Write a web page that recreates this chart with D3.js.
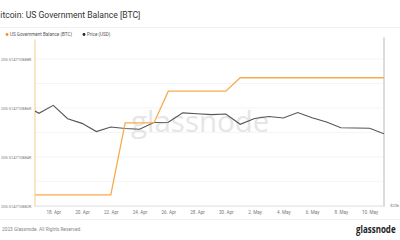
<!DOCTYPE html>
<html><head><meta charset="utf-8">
<script src="https://cdn.jsdelivr.net/npm/d3@7"></script>
<style>
html,body{margin:0;padding:0;background:#fff;overflow:hidden;}
svg{display:block;font-family:Roboto,"Liberation Sans",Arial,sans-serif;}
</style></head>
<body>
<svg id="c" width="400" height="240"></svg>
<script>
// ---- data ----
const dates = ["2023-04-16T17:30","2023-04-17","2023-04-18","2023-04-19","2023-04-20","2023-04-21","2023-04-22","2023-04-23","2023-04-24","2023-04-25","2023-04-26","2023-04-27","2023-04-28","2023-04-29","2023-04-30","2023-05-01","2023-05-02","2023-05-03","2023-05-04","2023-05-05","2023-05-06","2023-05-07","2023-05-08","2023-05-09","2023-05-10","2023-05-11"];
const balance = [205514.71088244,205514.71088244,205514.71088244,205514.71088244,205514.71088244,205514.71088244,205514.71088244,205514.710885386,205514.710885386,205514.710885386,205514.710886685,205514.710886685,205514.710886685,205514.710886685,205514.710886685,205514.710887235,205514.710887235,205514.710887235,205514.710887235,205514.710887235,205514.710887235,205514.710887235,205514.710887235,205514.710887235,205514.710887235,205514.710887235];
const price = [29720,29440,30440,28780,28230,27280,27800,27620,27540,28330,28360,29500,29380,29280,29350,28120,28820,29050,28870,29540,28900,28390,27720,27680,27650,27030];
const balTicks = [205514.710882,205514.710884,205514.710886,205514.710888];
const balGrid = [205514.710882,205514.710883,205514.710884,205514.710885,205514.710886,205514.710887,205514.710888];
const priceTicks = [20000];
const xTickDates = ["2023-04-18","2023-04-20","2023-04-22","2023-04-24","2023-04-26","2023-04-28","2023-04-30","2023-05-02","2023-05-04","2023-05-06","2023-05-08","2023-05-10"];

// ---- layout ----
const L = 35, R = 384, T = 39.5, B = 205.7;
const svg = d3.select("#c");
const parse = s => new Date(s + "Z");
const x = d3.scaleUtc().domain([parse(dates[0]), parse(dates[dates.length-1])]).range([L, R]);
const yB = d3.scaleLinear().domain([205514.710882, 205514.7108888]).range([B, T]);
const yP = d3.scaleLog().domain([20000, 40100]).range([B, T]);

// header (reference shows the title with its first letter cropped)
svg.append("text").attr("x", 0.3).attr("y", 18.3).attr("font-size", 8.6).attr("fill", "#333")
  .text("itcoin: US Government Balance [BTC]");
svg.append("line").attr("x1",0).attr("x2",400).attr("y1",27.5).attr("y2",27.5).attr("stroke","#f0f0f0");

// legend
const lg = svg.append("g").attr("font-size", 4.6).attr("fill", "#555");
lg.append("circle").attr("cx", 7).attr("cy", 34.5).attr("r", 1.4).attr("fill", "#f7931a");
lg.append("text").attr("x", 10).attr("y", 36.1).text("US Government Balance (BTC)");
lg.append("circle").attr("cx", 84).attr("cy", 34.5).attr("r", 1.4).attr("fill", "#222");
lg.append("text").attr("x", 87).attr("y", 36.1).text("Price (USD)");

// grid
svg.append("g").selectAll("line").data(balGrid).join("line")
  .attr("x1", L).attr("x2", R).attr("y1", d => yB(d)).attr("y2", d => yB(d))
  .attr("stroke", "#f1f1f1").attr("stroke-width", 0.8);

// watermark
svg.append("text").attr("x", 131).attr("y", 131.5).attr("font-size", 29.5)
  .attr("font-family", "'Open Sans',Roboto,sans-serif").attr("font-weight", 500)
  .attr("fill", "#e6e6e6").text("glassnode");

// left axis
const yAxisL = d3.axisLeft(yB).tickValues(balTicks).tickSize(0).tickPadding(3)
  .tickFormat(d => (d/1000).toFixed(9) + "K");
const gl = svg.append("g").attr("transform", `translate(${L},0)`).call(yAxisL);
gl.select(".domain").remove();
gl.selectAll("text").attr("font-size", 4.3).attr("fill", "#777").attr("font-family", "Roboto,sans-serif")
  .attr("text-anchor", "start").attr("x", 1 - L).attr("textLength", 30.5).attr("lengthAdjust", "spacingAndGlyphs");
svg.append("line").attr("x1", L).attr("x2", L).attr("y1", T).attr("y2", B+1).attr("stroke", "#fbc98a").attr("stroke-width", 1);

// right axis
const yAxisR = d3.axisRight(yP).tickValues(priceTicks).tickSize(0).tickPadding(6)
  .tickFormat(d => "$" + (d/1000) + "k");
const gr = svg.append("g").attr("transform", `translate(${R},0)`).call(yAxisR);
gr.select(".domain").remove();
gr.selectAll("text").attr("font-size", 4.2).attr("fill", "#777").attr("font-family", "Roboto,sans-serif").attr("dy","0.1em");
svg.append("line").attr("x1", R).attr("x2", R).attr("y1", T-2).attr("y2", B+1).attr("stroke", "#dcdcdc").attr("stroke-width", 2);

// bottom axis
const xAxis = d3.axisBottom(x).tickValues(xTickDates.map(parse)).tickSize(0).tickPadding(5)
  .tickFormat(d => d3.utcFormat("%-d. %b")(d));
const gx = svg.append("g").attr("transform", `translate(0,${B})`).call(xAxis);
gx.select(".domain").remove();
gx.selectAll("text").attr("font-size", 4.6).attr("fill", "#777").attr("font-family", "Roboto,sans-serif");
svg.append("line").attr("x1", L).attr("x2", R).attr("y1", B+0.5).attr("y2", B+0.5).attr("stroke", "#e2e2e2").attr("stroke-width", 1);

// clip
svg.append("clipPath").attr("id", "clip").append("rect").attr("x", L).attr("y", T).attr("width", R-L).attr("height", B-T);
const plot = svg.append("g").attr("clip-path", "url(#clip)");

const pts = dates.map((d, i) => ({t: parse(d), b: balance[i], p: price[i]}));
plot.append("path").datum(pts).attr("fill", "none").attr("stroke", "#555").attr("stroke-width", 1.1)
  .attr("d", d3.line().x(d => x(d.t)).y(d => yP(d.p)));
plot.append("path").datum(pts).attr("fill", "none").attr("stroke", "#f8ab4c").attr("stroke-width", 1.3)
  .attr("d", d3.line().x(d => x(d.t)).y(d => yB(d.b)));

// footer
svg.append("line").attr("x1",0).attr("x2",400).attr("y1",219.5).attr("y2",219.5).attr("stroke","#f0f0f0");
svg.append("text").attr("x", 2).attr("y", 230.5).attr("font-size", 4.8).attr("fill", "#888")
  .text("2023 Glassnode. All Rights Reserved.");
svg.append("text").attr("transform", "translate(356,233.3) scale(0.76,1)").attr("font-size", 10.5).attr("font-weight", 700)
  .attr("fill", "#222").attr("font-family", "'Open Sans',Roboto,sans-serif").text("glassnode");
</script>
</body></html>
